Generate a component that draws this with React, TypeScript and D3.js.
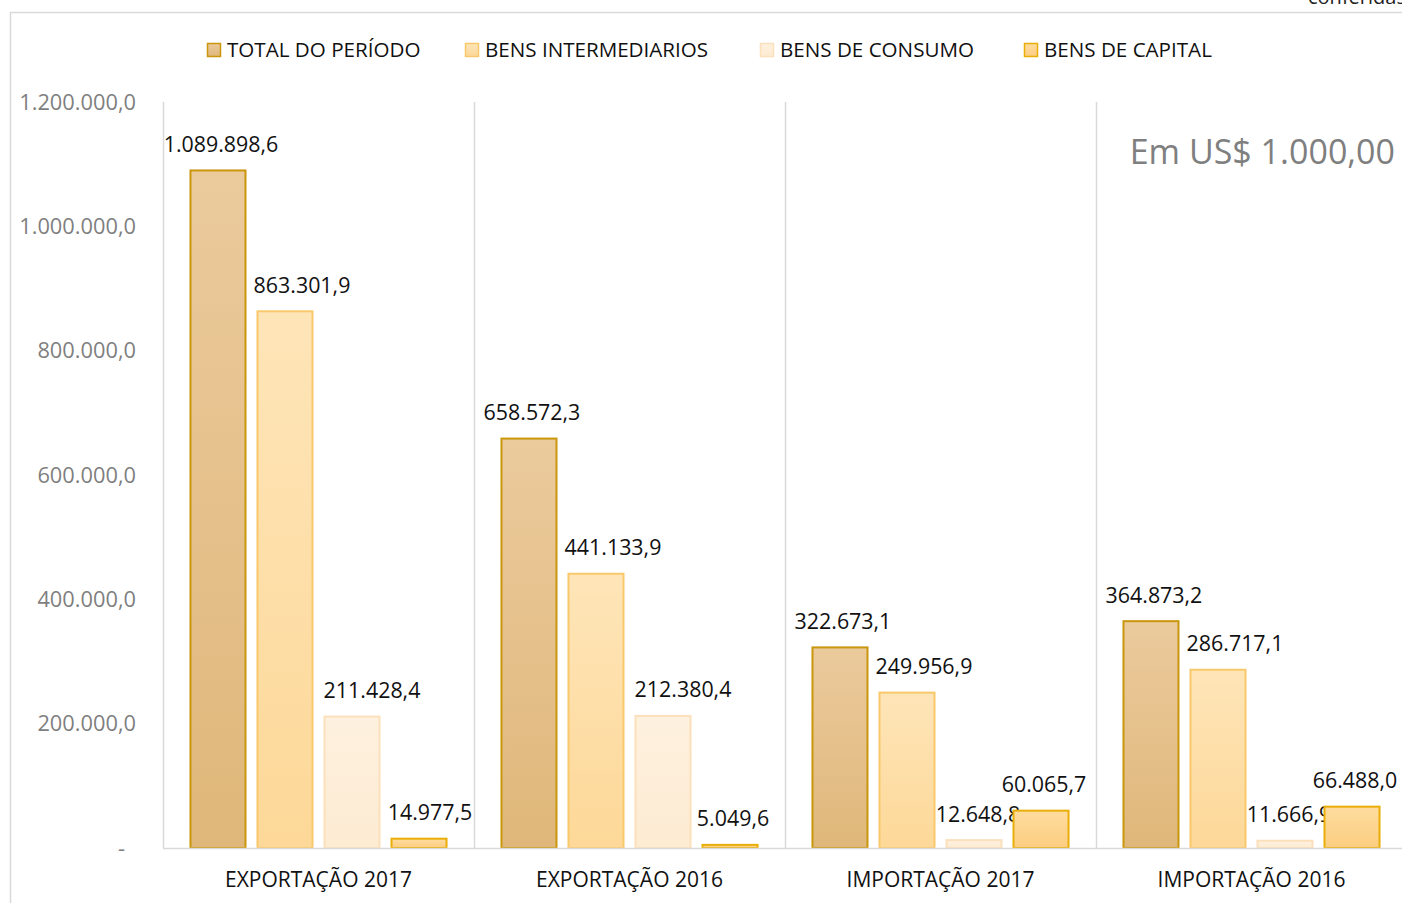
import React from "react";
import * as d3 from "d3";

const categories = ["EXPORTAÇÃO 2017", "EXPORTAÇÃO 2016", "IMPORTAÇÃO 2017", "IMPORTAÇÃO 2016"];
const seriesNames = ["TOTAL DO PERÍODO", "BENS INTERMEDIARIOS", "BENS DE CONSUMO", "BENS DE CAPITAL"];
const totalPeriodo = [1089898.6, 658572.3, 322673.1, 364873.2];
const bensIntermediarios = [863301.9, 441133.9, 249956.9, 286717.1];
const bensConsumo = [211428.4, 212380.4, 12648.8, 11666.9];
const bensCapital = [14977.5, 5049.6, 60065.7, 66488.0];
const yTicks = [0, 200000, 400000, 600000, 800000, 1000000, 1200000];

const seriesValues = [totalPeriodo, bensIntermediarios, bensConsumo, bensCapital];

const styles = [
  { top: "#ebca9c", bottom: "#dfb77a", stroke: "#c9960c" },
  { top: "#fee5b8", bottom: "#fdd898", stroke: "#f9c86a" },
  { top: "#fef1df", bottom: "#fdebd2", stroke: "#fbe0bb" },
  { top: "#fedc9f", bottom: "#fccd80", stroke: "#e9ae08" },
];

const fmt = (v: number) => {
  const s = v.toFixed(1);
  const [intPart, dec] = s.split(".");
  return intPart.replace(/\B(?=(\d{3})+(?!\d))/g, ".") + "," + dec;
};

const FONT = "'Open Sans', 'Noto Sans', sans-serif";

export default function App() {
  const W = 1402, H = 903;
  const plotLeft = 163, plotTop = 102, plotBottom = 848;
  const catW = 311;
  const x0 = d3.scaleBand<string>().domain(categories).range([plotLeft, plotLeft + catW * categories.length]).padding(0);
  const x1 = d3.scaleBand<string>().domain(seriesNames).range([0, catW]).paddingInner(0.179).paddingOuter(0.41);
  const y = d3.scaleLinear().domain([0, 1200000]).range([plotBottom, plotTop]);

  const labelDx = (si: number, ci: number, v: number) => {
    if (si === 0) return 3;
    if (si === 1) return 17;
    if (si === 2) return v > 100000 ? 20 : 4;
    return ci === 0 ? 11 : 3;
  };

  const legendX = [207, 465, 760, 1024];

  return (
    <svg width={W} height={H} style={{ position: "absolute", left: 0, top: 0, background: "#fff" }} fontFamily={FONT}>
      <defs>
        {styles.map((s, i) => (
          <linearGradient key={i} id={`g${i}`} x1="0" y1="0" x2="0" y2="1">
            <stop offset="0" stopColor={s.top} />
            <stop offset="1" stopColor={s.bottom} />
          </linearGradient>
        ))}
      </defs>
      <rect x={0} y={0} width={W} height={H} fill="#fff" />
      {/* partially visible text at top edge (as in reference) */}
      <text x={1308} y={4} fontSize={20} fill="#222">conferidas</text>
      {/* chart frame */}
      <line x1={10} x2={W} y1={12.5} y2={12.5} stroke="#d9d9d9" strokeWidth={1.5} />
      <line x1={10.5} x2={10.5} y1={12} y2={H} stroke="#d9d9d9" strokeWidth={1.5} />

      {/* legend */}
      {seriesNames.map((n, i) => (
        <g key={n}>
          <rect x={legendX[i] + 0.5} y={43.5} width={13} height={13} fill={`url(#g${i})`} stroke={styles[i].stroke} strokeWidth={1.5} />
          <text x={legendX[i] + 20} y={50} dy="0.35em" fontSize={20.6} fill="#111">{n}</text>
        </g>
      ))}

      {/* y axis labels */}
      {yTicks.map((t) => (
        <text key={t} x={t === 0 ? 125 : 136} y={y(t)} dy="0.35em" textAnchor="end" fontSize={21.8} fill="#7f7f7f">
          {t === 0 ? "-" : fmt(t)}
        </text>
      ))}

      {/* vertical separators */}
      {categories.map((c) => (
        <line key={c} x1={x0(c)! + 0.5} x2={x0(c)! + 0.5} y1={plotTop} y2={plotBottom} stroke="#d9d9d9" strokeWidth={1.5} />
      ))}

      {/* bars */}
      {categories.map((c, ci) => (
        <g key={c} transform={`translate(${x0(c)},0)`}>
          {seriesNames.map((s, si) => {
            const v = seriesValues[si][ci];
            const bx = x1(s)!;
            const bw = x1.bandwidth();
            return (
              <g key={s}>
                <rect x={bx} y={y(v)} width={bw} height={plotBottom - y(v)} fill={`url(#g${si})`} stroke={styles[si].stroke} strokeWidth={2} />
                <text x={bx + bw / 2 + labelDx(si, ci, v)} y={y(v) - 26} dy="0.35em" textAnchor="middle" fontSize={21.4} fill="#111">
                  {fmt(v)}
                </text>
              </g>
            );
          })}
          <text x={catW / 2} y={880} dy="0.35em" textAnchor="middle" fontSize={21} fill="#111">{c}</text>
        </g>
      ))}

      {/* baseline */}
      <line x1={plotLeft} x2={W} y1={plotBottom + 0.5} y2={plotBottom + 0.5} stroke="#d9d9d9" strokeWidth={1.5} />

      <text x={1395} y={152} dy="0.35em" textAnchor="end" fontSize={34} fill="#7f7f7f">Em US$ 1.000,00</text>
    </svg>
  );
}
